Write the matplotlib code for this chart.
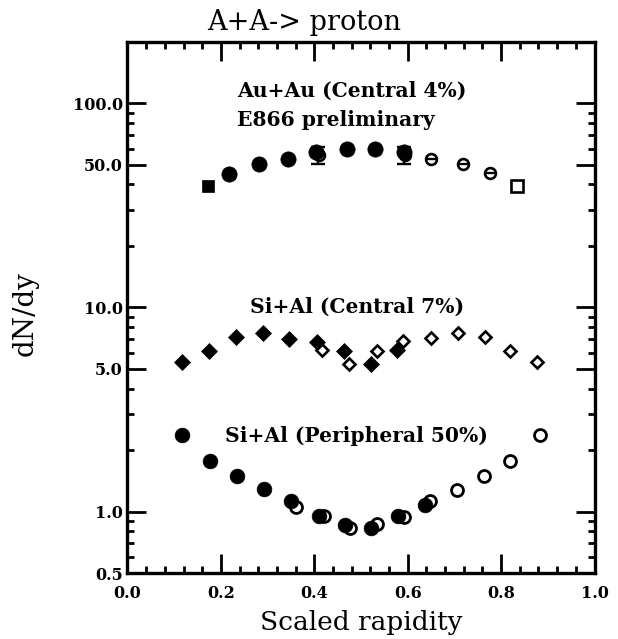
import matplotlib
matplotlib.use("Agg")
import matplotlib.pyplot as plt
from matplotlib.ticker import FixedLocator, FixedFormatter, NullFormatter

# ---- Au+Au (central 4%), E866 preliminary ----
au_sq_x = [0.173]
au_sq_y = [39.4]
au_x = [0.218, 0.282, 0.344, 0.404, 0.469, 0.530, 0.591]
au_y = [44.9, 50.3, 53.2, 57.4, 59.5, 59.5, 57.4]
au_refl_x = [0.410, 0.594, 0.650, 0.719, 0.777]
au_refl_y = [55.8, 55.8, 53.2, 50.3, 45.3]
au_refl_sq_x = [0.833]
au_refl_sq_y = [39.4]
# error bars on the two overlapping reflected points
au_err_x = [0.407, 0.592]
au_err_y = [55.8, 55.8]
au_err_lo = [5.5, 5.5]
au_err_hi = [5.5, 5.5]

# ---- Si+Al (central 7%) ----
sic_x = [0.116, 0.1745, 0.2323, 0.2908, 0.3465, 0.4064, 0.4636, 0.5208, 0.5764]
sic_y = [5.39, 6.12, 7.19, 7.48, 6.99, 6.80, 6.12, 5.29, 6.19]
sic_refl_x = [0.4158, 0.4743, 0.5336, 0.5906, 0.6499, 0.7084, 0.7655, 0.8191, 0.8775]
sic_refl_y = [6.19, 5.29, 6.12, 6.87, 7.05, 7.48, 7.19, 6.12, 5.39]

# ---- Si+Al (peripheral 50%) ----
sip_x = [0.116, 0.177, 0.235, 0.292, 0.350, 0.409, 0.466, 0.521, 0.580, 0.637]
sip_y = [2.375, 1.778, 1.496, 1.291, 1.132, 0.950, 0.861, 0.829, 0.958, 1.078]
sip_refl_x = [0.360, 0.420, 0.476, 0.535, 0.591, 0.648, 0.705, 0.764, 0.819, 0.883]
sip_refl_y = [1.058, 0.956, 0.829, 0.868, 0.947, 1.128, 1.277, 1.496, 1.778, 2.375]

# ---- axes ticks ----
x_major = [0.0, 0.2, 0.4, 0.6, 0.8, 1.0]
x_labels = ["0.0", "0.2", "0.4", "0.6", "0.8", "1.0"]
x_minor = [i * 0.04 for i in range(26)]
y_major = [0.5, 1.0, 5.0, 10.0, 50.0, 100.0]
y_labels = ["0.5", "1.0", "5.0", "10.0", "50.0", "100.0"]
y_minor = [0.6, 0.7, 0.8, 0.9, 2, 3, 4, 6, 7, 8, 9, 20, 30, 40, 60, 70, 80, 90]

SERIF = "DejaVu Serif"

fig = plt.figure(figsize=(6.18, 6.39), dpi=100)
ax = fig.add_axes([0.2063, 0.1030, 0.7557, 0.8317])
ax.set_yscale("log")
ax.set_xlim(0.0, 1.0)
ax.set_ylim(0.5, 200.0)

# open (reflected) symbols first, filled on top
ax.plot(sip_refl_x, sip_refl_y, "o", ms=8.6, mfc="white", mec="black", mew=2.0, zorder=3)
ax.plot(sic_refl_x, sic_refl_y, "D", ms=6.4, mfc="white", mec="black", mew=1.9, zorder=3)
ax.plot(au_refl_x, au_refl_y, "o", ms=7.8, mfc="white", mec="black", mew=1.9, zorder=3)
ax.plot(au_refl_x, au_refl_y, "_", ms=7.4, mec="black", mew=1.7, zorder=3.1)
ax.plot(au_refl_sq_x, au_refl_sq_y, "s", ms=8.8, mfc="white", mec="black", mew=1.9, zorder=3)

ax.errorbar(au_err_x, au_err_y, yerr=[au_err_lo, au_err_hi], fmt="none", ecolor="black",
            elinewidth=1.7, capsize=5.2, capthick=1.7, zorder=3.5)

ax.plot(sip_x, sip_y, "o", ms=10.6, mfc="black", mec="black", mew=0.5, zorder=4)
ax.plot(sic_x, sic_y, "D", ms=8.2, mfc="black", mec="black", mew=0.5, zorder=4)
ax.plot(au_x, au_y, "o", ms=11.0, mfc="black", mec="black", mew=0.5, zorder=4)
ax.plot(au_sq_x, au_sq_y, "s", ms=9.2, mfc="black", mec="black", mew=0.5, zorder=4)

# annotations
txt = dict(fontfamily=SERIF, fontweight="bold", fontsize=14.6, ha="left", va="baseline")
ax.text(0.2345, 108.0, "Au+Au (Central 4%)", **txt)
ax.text(0.2345, 77.4, "E866 preliminary", **txt)
ax.text(0.262, 9.4, "Si+Al (Central 7%)", **txt)
ax.text(0.2088, 2.20, "Si+Al (Peripheral 50%)", **txt)

# ticks
ax.xaxis.set_major_locator(FixedLocator(x_major))
ax.xaxis.set_major_formatter(FixedFormatter(x_labels))
ax.xaxis.set_minor_locator(FixedLocator(x_minor))
ax.yaxis.set_major_locator(FixedLocator(y_major))
ax.yaxis.set_major_formatter(FixedFormatter(y_labels))
ax.yaxis.set_minor_locator(FixedLocator(y_minor))
ax.yaxis.set_minor_formatter(NullFormatter())

ax.tick_params(which="both", direction="in", top=True, right=True, color="black")
ax.tick_params(which="major", length=14.0, width=2.0)
ax.tick_params(which="minor", length=5.0, width=2.0)
ax.tick_params(axis="x", which="major", pad=8.5)
ax.tick_params(axis="y", which="major", pad=3.5)
for lab in ax.get_xticklabels() + ax.get_yticklabels():
    lab.set_fontfamily(SERIF)
    lab.set_fontweight("bold")
    lab.set_fontsize(11.5)

for sp in ax.spines.values():
    sp.set_linewidth(2.4)

fig.text(0.492, 0.953, "A+A-> proton", fontfamily=SERIF, fontsize=19.5,
         ha="center", va="baseline")
fig.text(0.5842, 0.0145, "Scaled rapidity", fontfamily=SERIF, fontsize=19,
         ha="center", va="baseline")
fig.text(0.040, 0.509, "dN/dy", fontfamily=SERIF, fontsize=20, rotation=90,
         ha="center", va="center")

fig.savefig("out.png", dpi=100)
